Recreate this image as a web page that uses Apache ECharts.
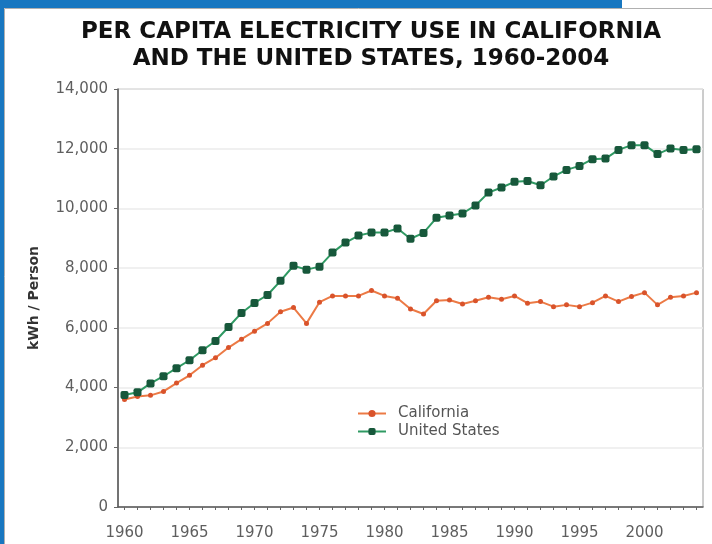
<!DOCTYPE html>
<html>
<head>
<meta charset="utf-8">
<script src="https://cdn.jsdelivr.net/npm/echarts@6/dist/echarts.min.js"></script>
<style>
  html, body { margin: 0; padding: 0; background: #ffffff; }
  #chart { width: 712px; height: 544px; }
</style>
</head>
<body>
<div id="chart"></div>
<script>
// Per capita electricity use (kWh per person), 1960-2004
const years = [];
for (let y = 1960; y <= 2004; y++) years.push(String(y));

const california = [
  3600, 3700, 3740, 3870, 4150, 4410, 4750, 5000, 5340, 5620,
  5890, 6150, 6540, 6680, 6150, 6860, 7070, 7070, 7070, 7250,
  7070, 6990, 6630, 6465, 6910, 6935, 6800, 6910, 7025, 6960,
  7070, 6825, 6880, 6710, 6770, 6710, 6845, 7070, 6880, 7050,
  7180, 6770, 7025, 7070, 7180
];

const unitedStates = [
  3750, 3840, 4140, 4380, 4650, 4915, 5250, 5560, 6030, 6500,
  6835, 7100, 7575, 8080, 7950, 8050, 8520, 8855, 9090, 9190,
  9190, 9330, 8985, 9180, 9685, 9760, 9830, 10100, 10530, 10700,
  10890, 10920, 10775, 11070, 11290, 11425, 11650, 11670, 11960, 12120,
  12120, 11820, 12010, 11960, 11985
];

const yTicks = { min: 0, max: 14000, step: 2000 };

const labelFont = 'DejaVu Sans';

const chart = echarts.init(document.getElementById('chart'));

chart.setOption({
  animation: false,
  backgroundColor: '#ffffff',
  graphic: [
    // blue frame around the panel
    { type: 'rect', shape: { x: 0, y: 0, width: 4, height: 544 }, style: { fill: '#1877c0' }, silent: true },
    { type: 'rect', shape: { x: 0, y: 0, width: 622, height: 8 }, style: { fill: '#1877c0' }, silent: true },
    { type: 'line', shape: { x1: 4.5, y1: 8.5, x2: 712, y2: 8.5 }, style: { stroke: '#b0b0b0', lineWidth: 1 }, silent: true },
    { type: 'line', shape: { x1: 4.5, y1: 8.5, x2: 4.5, y2: 544 }, style: { stroke: '#b0b0b0', lineWidth: 1 }, silent: true }
  ],
  title: {
    text: 'PER CAPITA ELECTRICITY USE IN CALIFORNIA\nAND THE UNITED STATES, 1960-2004',
    left: 371,
    top: 19,
    padding: 0,
    textAlign: 'center',
    textStyle: {
      fontFamily: 'DejaVu Sans',
      fontWeight: 'bold',
      fontSize: 23,
      lineHeight: 27,
      color: '#111111'
    }
  },
  legend: {
    orient: 'vertical',
    left: 357,
    top: 406,
    padding: 0,
    itemWidth: 28,
    itemHeight: 9,
    itemGap: 3,
    textStyle: { fontFamily: labelFont, fontSize: 15, color: '#555555', padding: [0, 0, 0, 7] },
    data: ['California', 'United States']
  },
  grid: {
    left: 118,
    top: 89,
    right: 9,
    bottom: 37,
    show: true,
    borderColor: '#9a9a9a',
    borderWidth: 1,
    backgroundColor: '#ffffff'
  },
  xAxis: {
    type: 'category',
    data: years,
    boundaryGap: true,
    axisLine: { lineStyle: { color: '#555555', width: 1.5 } },
    axisTick: { show: true, interval: 0, alignWithLabel: true, length: 3, lineStyle: { color: '#666666' } },
    axisLabel: {
      interval: 4,
      margin: 19,
      fontFamily: labelFont,
      fontSize: 15,
      color: '#5e5e5e'
    },
    splitLine: { show: false }
  },
  yAxis: {
    type: 'value',
    min: yTicks.min,
    max: yTicks.max,
    interval: yTicks.step,
    name: 'kWh / Person',
    nameLocation: 'middle',
    nameGap: 77,
    nameTextStyle: { fontFamily: labelFont, fontWeight: 'bold', fontSize: 14, color: '#333333' },
    axisLine: { show: true, lineStyle: { color: '#555555', width: 1.5 } },
    axisTick: { show: true, length: 4, lineStyle: { color: '#666666' } },
    axisLabel: {
      margin: 10,
      fontFamily: labelFont,
      fontSize: 15,
      color: '#5e5e5e',
      formatter: v => v.toLocaleString('en-US')
    },
    splitLine: { show: true, lineStyle: { color: '#ebebeb', width: 1.5 } }
  },
  series: [
    {
      name: 'California',
      type: 'line',
      data: california,
      symbol: 'circle',
      symbolSize: 5,
      lineStyle: { color: '#ec7a45', width: 2 },
      itemStyle: { color: '#d9532b' },
      z: 2
    },
    {
      name: 'United States',
      type: 'line',
      data: unitedStates,
      symbol: 'roundRect',
      symbolSize: 8,
      lineStyle: { color: '#2f9a63', width: 2 },
      itemStyle: { color: '#17583b' },
      z: 3
    }
  ]
});
</script>
</body>
</html>
